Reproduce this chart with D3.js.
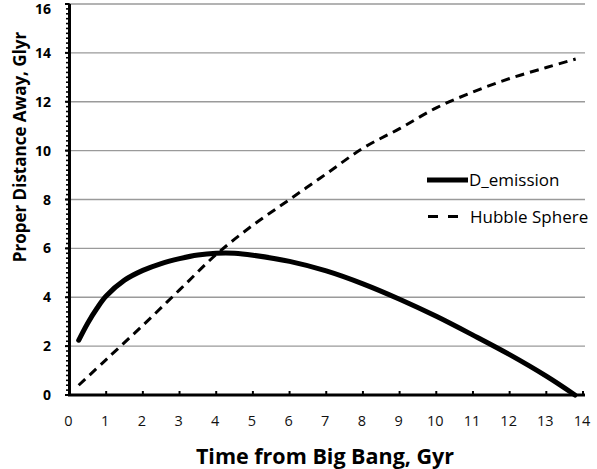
<!DOCTYPE html>
<html><head><meta charset="utf-8">
<script src="https://cdn.jsdelivr.net/npm/d3@7"></script>
<style>body{margin:0;background:#fff}svg{display:block}</style>
</head><body>
<svg id="c" width="597" height="469"></svg>
<script>
const xTicks = [0,1,2,3,4,5,6,7,8,9,10,11,12,13,14];
const yTicks = [0,2,4,6,8,10,12,14,16];
const emissionT = [0.25,0.5,0.75,1,1.5,2,2.5,3,3.5,4,4.5,5,6,7,8,9,10,11,12,13,13.78];
const emissionD = [2.24,2.95,3.55,4.05,4.7,5.1,5.38,5.58,5.73,5.8,5.8,5.72,5.47,5.08,4.55,3.92,3.22,2.45,1.65,0.77,0.0];
const hubbleT = [0.25,1,2,3,4,5,6,7,8,9,10,11,12,13,13.8];
const hubbleD = [0.4,1.45,2.85,4.3,5.75,6.95,8.0,9.05,10.1,10.9,11.75,12.4,12.95,13.4,13.75];
const seriesNames = ["D_emission","Hubble Sphere"];
const xTitle = "Time from Big Bang, Gyr";
const yTitle = "Proper Distance Away, Glyr";

const svg = d3.select("#c");
const x = d3.scaleLinear().domain([0,14]).range([69.5,583]);
const y = d3.scaleLinear().domain([0,16]).range([395,4]);
const font = "'Open Sans', sans-serif";

// gridlines
svg.append("g").selectAll("line").data(yTicks.filter(d=>d>0)).join("line")
  .attr("x1",x(0)).attr("x2",585).attr("y1",d=>y(d)).attr("y2",d=>y(d))
  .attr("stroke","#9a9a9a").attr("stroke-width",1.3);

// y axis minor ticks
const yMinor = d3.range(0,16.001,0.2);
svg.append("g").selectAll("line").data(yMinor).join("line")
  .attr("x1",x(0)-3.5).attr("x2",x(0)).attr("y1",d=>y(d)).attr("y2",d=>y(d))
  .attr("stroke","#000").attr("stroke-width",1.6);
// y axis major ticks
svg.append("g").selectAll("line").data(yTicks).join("line")
  .attr("x1",x(0)-4.5).attr("x2",x(0)).attr("y1",d=>y(d)).attr("y2",d=>y(d))
  .attr("stroke","#000").attr("stroke-width",2);
// x ticks (inside, upward)
svg.append("g").selectAll("line").data(xTicks).join("line")
  .attr("x1",d=>x(d)).attr("x2",d=>x(d)).attr("y1",y(0)).attr("y2",y(0)-4)
  .attr("stroke","#000").attr("stroke-width",2);

// axis lines
svg.append("line").attr("x1",x(0)).attr("x2",x(0)).attr("y1",y(0)).attr("y2",y(16))
  .attr("stroke","#000").attr("stroke-width",3);
svg.append("line").attr("x1",x(0)-1.5).attr("x2",585).attr("y1",y(0)).attr("y2",y(0))
  .attr("stroke","#000").attr("stroke-width",3);

// tick labels
svg.append("g").selectAll("text").data(yTicks).join("text")
  .attr("x",51).attr("y",d=>Math.max(y(d)+5, 14)).attr("text-anchor","end")
  .attr("font-family",font).attr("font-weight","bold").attr("font-size",14)
  .text(d=>d);
svg.append("g").selectAll("text").data(xTicks).join("text")
  .attr("x",d=>x(d)-1).attr("y",426).attr("text-anchor","middle")
  .attr("font-family",font).attr("font-size",14.5).attr("fill","#111")
  .text(d=>d);

// titles
svg.append("text").attr("x",325).attr("y",464).attr("text-anchor","middle")
  .attr("font-family",font).attr("font-weight","bold").attr("font-size",21.5)
  .text(xTitle);
svg.append("text").attr("transform","translate(26,147) rotate(-90)").attr("text-anchor","middle")
  .attr("font-family",font).attr("font-weight","bold").attr("font-size",17)
  .text(yTitle);

// lines
const line = d3.line().x(d=>x(d[0])).y(d=>y(d[1])).curve(d3.curveCatmullRom.alpha(0.5));
svg.append("path").datum(emissionT.map((t,i)=>[t,emissionD[i]]))
  .attr("d",line).attr("fill","none").attr("stroke","#000").attr("stroke-width",5)
  .attr("stroke-linecap","round");
svg.append("path").datum(hubbleT.map((t,i)=>[t,hubbleD[i]]))
  .attr("d",line).attr("fill","none").attr("stroke","#000").attr("stroke-width",3)
  .attr("stroke-dasharray","9,6");

// legend
const lg = svg.append("g");
lg.append("line").attr("x1",427).attr("x2",468).attr("y1",180).attr("y2",180)
  .attr("stroke","#000").attr("stroke-width",5);
lg.append("line").attr("x1",428).attr("x2",458).attr("y1",216.5).attr("y2",216.5)
  .attr("stroke","#000").attr("stroke-width",3).attr("stroke-dasharray","10,10");
lg.append("text").attr("x",469).attr("y",186).attr("font-family",font).attr("font-size",17)
  .text(seriesNames[0]);
lg.append("text").attr("x",470).attr("y",222.5).attr("font-family",font).attr("font-size",17)
  .text(seriesNames[1]);
</script>
</body></html>
